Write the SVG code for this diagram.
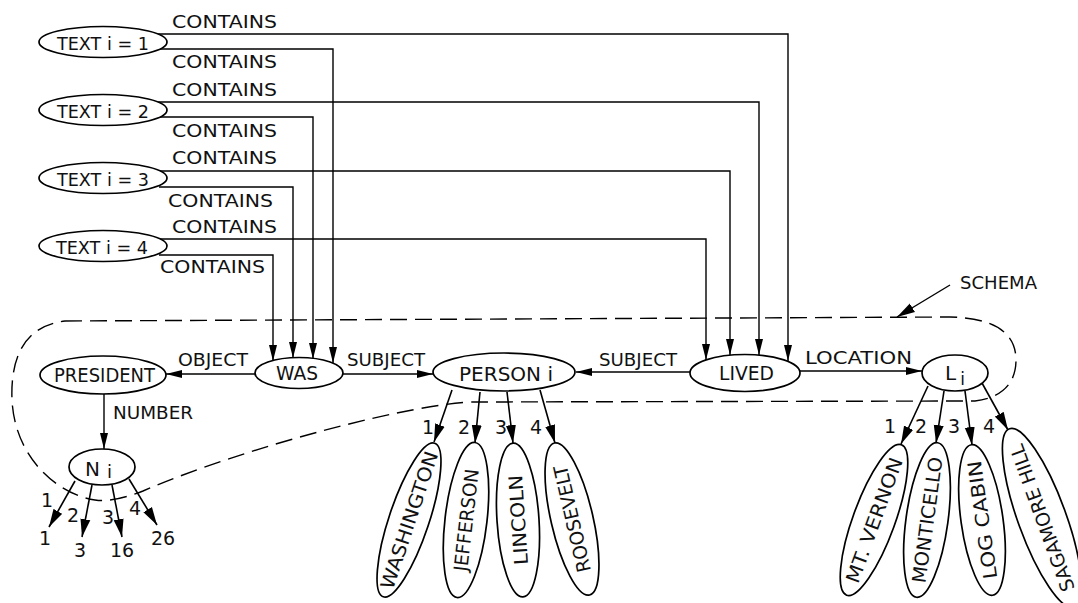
<svg xmlns="http://www.w3.org/2000/svg" width="1078" height="603" viewBox="0 0 1078 603">
<defs>
<style>
.nd{fill:#fff;stroke:#000;stroke-width:1.7}
.c{fill:none;stroke:#000;stroke-width:1.4}
.f{fill:none;stroke:#000;stroke-width:1.6}
.sc{fill:none;stroke:#000;stroke-width:1.4;stroke-dasharray:17 8}
text{font-family:"DejaVu Sans","Liberation Sans",sans-serif;font-size:18.5px;fill:#111}
.m{font-size:20px}
.nm{font-size:19px;text-anchor:middle}
.d{font-size:19px}
</style>
<marker id="ah" markerUnits="userSpaceOnUse" markerWidth="17" markerHeight="9" refX="16" refY="4.5" orient="auto"><path d="M0,0.5 L16,4.5 L0,8.5 Z" fill="#000"/></marker>
<marker id="ahb" markerUnits="userSpaceOnUse" markerWidth="19" markerHeight="11" refX="18" refY="5.5" orient="auto"><path d="M0,0.5 L18,5.5 L0,10.5 Z" fill="#000"/></marker>
</defs>

<g id="schema">
<path class="sc" d="M65,321 L950,317 C990,318 1016,330 1016,360 C1016,385 1000,398 975,401 L475,402 C420,402 250,445 143,491 C125,498 108,502 95,500 C60,495 15,460 12,400 C10,350 30,325 65,321 Z"/>
<text x="960" y="289" textLength="77" lengthAdjust="spacingAndGlyphs">SCHEMA</text>
<line class="c" x1="950" y1="285" x2="897" y2="317" marker-end="url(#ahb)"/>
</g>

<g id="connectors">
<path class="c" d="M157,34 H788 V361" marker-end="url(#ah)"/>
<path class="c" d="M159,49 H333 V363" marker-end="url(#ah)"/>
<path class="c" d="M157,102 H759 V355" marker-end="url(#ah)"/>
<path class="c" d="M159,117 H313 V359" marker-end="url(#ah)"/>
<path class="c" d="M157,171 H730 V355" marker-end="url(#ah)"/>
<path class="c" d="M159,187 H293 V358" marker-end="url(#ah)"/>
<path class="c" d="M157,239 H706 V360" marker-end="url(#ah)"/>
<path class="c" d="M159,255 H273 V361" marker-end="url(#ah)"/>
<path class="c" d="M255,374 H166" marker-end="url(#ah)"/>
<path class="c" d="M343,374 H433" marker-end="url(#ah)"/>
<path class="c" d="M690,372 H576" marker-end="url(#ah)"/>
<path class="c" d="M800,371 H922" marker-end="url(#ah)"/>
<path class="c" d="M104,394 V449" marker-end="url(#ah)"/>
<line class="f" x1="75" y1="481" x2="49" y2="527" marker-end="url(#ahb)"/>
<line class="f" x1="92" y1="485" x2="82" y2="537" marker-end="url(#ahb)"/>
<line class="f" x1="112" y1="485" x2="122" y2="537" marker-end="url(#ahb)"/>
<line class="f" x1="129" y1="479" x2="157" y2="525" marker-end="url(#ahb)"/>
<line class="f" x1="452" y1="390" x2="434" y2="442" marker-end="url(#ahb)"/>
<line class="f" x1="480" y1="392" x2="475" y2="443" marker-end="url(#ahb)"/>
<line class="f" x1="507" y1="392" x2="513" y2="443" marker-end="url(#ahb)"/>
<line class="f" x1="540" y1="390" x2="555" y2="443" marker-end="url(#ahb)"/>
<line class="f" x1="928" y1="386" x2="901" y2="444" marker-end="url(#ahb)"/>
<line class="f" x1="944" y1="391" x2="936" y2="443" marker-end="url(#ahb)"/>
<line class="f" x1="965" y1="391" x2="972" y2="445" marker-end="url(#ahb)"/>
<line class="f" x1="982" y1="383" x2="1008" y2="430" marker-end="url(#ahb)"/>
</g>

<g id="labels">
<text x="172" y="28" textLength="105" lengthAdjust="spacingAndGlyphs">CONTAINS</text>
<text x="172" y="68" textLength="105" lengthAdjust="spacingAndGlyphs">CONTAINS</text>
<text x="172" y="96" textLength="105" lengthAdjust="spacingAndGlyphs">CONTAINS</text>
<text x="172" y="137" textLength="105" lengthAdjust="spacingAndGlyphs">CONTAINS</text>
<text x="172" y="164" textLength="105" lengthAdjust="spacingAndGlyphs">CONTAINS</text>
<text x="168" y="207" textLength="105" lengthAdjust="spacingAndGlyphs">CONTAINS</text>
<text x="172" y="233" textLength="105" lengthAdjust="spacingAndGlyphs">CONTAINS</text>
<text x="160" y="273" textLength="105" lengthAdjust="spacingAndGlyphs">CONTAINS</text>
<text x="178" y="366" textLength="70" lengthAdjust="spacingAndGlyphs">OBJECT</text>
<text x="347" y="366" textLength="78" lengthAdjust="spacingAndGlyphs">SUBJECT</text>
<text x="599" y="366" textLength="78" lengthAdjust="spacingAndGlyphs">SUBJECT</text>
<text x="805" y="364" textLength="107" lengthAdjust="spacingAndGlyphs">LOCATION</text>
<text x="113" y="419" textLength="80" lengthAdjust="spacingAndGlyphs">NUMBER</text>
<text class="d" x="41" y="507">1</text>
<text class="d" x="67" y="522">2</text>
<text class="d" x="102" y="524">3</text>
<text class="d" x="129" y="515">4</text>
<text class="d" x="39" y="545">1</text>
<text class="d" x="74" y="557">3</text>
<text class="d" x="110" y="557">16</text>
<text class="d" x="151" y="545">26</text>
<text class="d" x="422" y="434">1</text>
<text class="d" x="458" y="434">2</text>
<text class="d" x="495" y="434">3</text>
<text class="d" x="530" y="434">4</text>
<text class="d" x="884" y="433">1</text>
<text class="d" x="915" y="433">2</text>
<text class="d" x="948" y="433">3</text>
<text class="d" x="983" y="433">4</text>
</g>

<g id="text1"><ellipse class="nd" cx="103" cy="42" rx="64" ry="15.5"/><text x="57" y="50" textLength="92" lengthAdjust="spacingAndGlyphs">TEXT i = 1</text></g>
<g id="text2"><ellipse class="nd" cx="103" cy="110" rx="64" ry="15.5"/><text x="57" y="118" textLength="92" lengthAdjust="spacingAndGlyphs">TEXT i = 2</text></g>
<g id="text3"><ellipse class="nd" cx="103" cy="178" rx="64" ry="15.5"/><text x="57" y="186" textLength="92" lengthAdjust="spacingAndGlyphs">TEXT i = 3</text></g>
<g id="text4"><ellipse class="nd" cx="103" cy="246" rx="64" ry="15.5"/><text x="56" y="254" textLength="92" lengthAdjust="spacingAndGlyphs">TEXT i = 4</text></g>

<g id="president"><ellipse class="nd" cx="103" cy="375" rx="63" ry="19"/><text class="m" x="54" y="382" textLength="101" lengthAdjust="spacingAndGlyphs">PRESIDENT</text></g>
<g id="was"><ellipse class="nd" cx="299" cy="373" rx="44" ry="15.5"/><text class="m" x="276" y="380" textLength="42" lengthAdjust="spacingAndGlyphs">WAS</text></g>
<g id="person"><ellipse class="nd" cx="504" cy="372" rx="71" ry="19"/><text class="m" x="459" y="381" textLength="94" lengthAdjust="spacingAndGlyphs">PERSON i</text></g>
<g id="lived"><ellipse class="nd" cx="745" cy="373" rx="55" ry="18.5"/><text class="m" x="719" y="380" textLength="55" lengthAdjust="spacingAndGlyphs">LIVED</text></g>
<g id="li"><ellipse class="nd" cx="955" cy="373" rx="33" ry="18"/><text class="m" x="945" y="380">L<tspan dx="4" dy="5" font-size="17">i</tspan></text></g>
<g id="ni"><ellipse class="nd" cx="102" cy="467" rx="33" ry="18"/><text class="m" x="85" y="476">N<tspan dx="7" dy="2" font-size="18">i</tspan></text></g>

<g id="washington" transform="translate(409,520) rotate(18.5)"><ellipse class="nd" rx="20" ry="81"/><text class="nm" transform="rotate(-90)" x="0" y="7" textLength="144" lengthAdjust="spacingAndGlyphs">WASHINGTON</text></g>
<g id="jefferson" transform="translate(466,520) rotate(6.6)"><ellipse class="nd" rx="21" ry="78"/><text class="nm" transform="rotate(-90)" x="0" y="7" textLength="103" lengthAdjust="spacingAndGlyphs">JEFFERSON</text></g>
<g id="lincoln" transform="translate(518,520) rotate(-3.7)"><ellipse class="nd" rx="21" ry="77"/><text class="nm" transform="rotate(-90)" x="0" y="7" textLength="90" lengthAdjust="spacingAndGlyphs">LINCOLN</text></g>
<g id="roosevelt" transform="translate(572,519) rotate(-13)"><ellipse class="nd" rx="21" ry="78"/><text class="nm" transform="rotate(-90)" x="0" y="7" textLength="109" lengthAdjust="spacingAndGlyphs">ROOSEVELT</text></g>
<g id="mtvernon" transform="translate(874,520) rotate(20)"><ellipse class="nd" rx="21" ry="80"/><text class="nm" transform="rotate(-90)" x="0" y="7" textLength="132" lengthAdjust="spacingAndGlyphs">MT. VERNON</text></g>
<g id="monticello" transform="translate(927,520) rotate(7.8)"><ellipse class="nd" rx="21" ry="78"/><text class="nm" transform="rotate(-90)" x="0" y="7" textLength="127" lengthAdjust="spacingAndGlyphs">MONTICELLO</text></g>
<g id="logcabin" transform="translate(982,520) rotate(-8)"><ellipse class="nd" rx="21" ry="76"/><text class="nm" transform="rotate(-90)" x="0" y="7" textLength="119" lengthAdjust="spacingAndGlyphs">LOG CABIN</text></g>
<g id="sagamore" transform="translate(1042,518) rotate(-20)"><ellipse class="nd" rx="24" ry="95"/><text class="nm" transform="rotate(-90)" x="0" y="7" textLength="155" lengthAdjust="spacingAndGlyphs">SAGAMORE HILL</text></g>
</svg>
